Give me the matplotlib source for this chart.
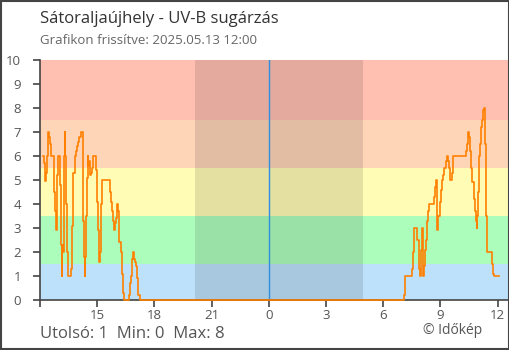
import pandas as pd
import matplotlib.pyplot as plt
import matplotlib.dates as mdates
from matplotlib.patches import Rectangle

plt.rcParams['font.family'] = ['Open Sans', 'DejaVu Sans']

# UV-B readings, afternoon of the first day
times_day1 = ["12:08", "12:12", "12:15", "12:17", "12:19", "12:21", "12:24", "12:26", "12:28", "12:30",
              "12:34", "12:36", "12:44", "12:47", "12:50", "12:52", "12:54", "12:56", "13:03", "13:07",
              "13:09", "13:10", "13:12", "13:16", "13:18", "13:20", "13:23", "13:26", "13:29", "13:37",
              "13:41", "13:45", "13:51", "13:54", "13:56", "13:59", "14:01", "14:04", "14:08", "14:14",
              "14:19", "14:21", "14:22", "14:24", "14:27", "14:31", "14:32", "14:34", "14:37", "14:40",
              "14:45", "14:48", "14:57", "15:00", "15:04", "15:05", "15:07", "15:08", "15:11", "15:13",
              "15:15", "15:39", "15:43", "15:46", "15:49", "15:52", "15:54", "15:56", "15:58", "16:01",
              "16:03", "16:04", "16:08", "16:15", "16:18", "16:21", "16:24", "16:40", "16:43", "16:45",
              "16:48", "16:50", "16:53", "16:55", "16:58", "17:01", "17:04", "17:07", "17:10", "17:14"]
uv_day1 = [6.0, 5.7, 5.3, 4.95, 5.3, 6.0, 6.6, 7.0, 6.8, 6.5,
           6.2, 6.0, 4.5, 3.7, 2.9, 3.7, 5.2, 6.0, 4.8, 2.3,
           1.0, 2.3, 2.0, 6.0, 7.0, 6.0, 4.0, 2.0, 1.0, 1.3,
           3.1, 5.3, 6.0, 6.2, 6.4, 6.5, 6.6, 6.8, 7.0, 3.3,
           1.8, 1.0, 1.8, 3.5, 5.1, 6.0, 5.6, 5.8, 5.2, 5.3,
           5.5, 6.0, 5.4, 4.1, 2.9, 1.7, 1.6, 2.0, 3.2, 4.0,
           5.0, 4.5, 4.1, 3.7, 3.3, 3.1, 2.9, 3.2, 3.4, 3.8,
           4.0, 3.7, 2.4, 2.0, 1.1, 0.3, 0.0, 0.2, 0.7, 1.0,
           1.3, 1.7, 2.0, 1.7, 1.6, 1.4, 0.9, 0.5, 0.2, 0.0]

# UV-B readings, morning of the second day
times_day2 = ["07:03", "07:06", "07:09", "07:32", "07:35", "07:38", "07:47", "07:52", "07:54", "07:57",
              "07:59", "08:02", "08:04", "08:07", "08:09", "08:13", "08:15", "08:18", "08:20", "08:23",
              "08:41", "08:44", "08:47", "08:48", "08:50", "08:54", "08:59", "09:03", "09:05", "09:09",
              "09:12", "09:17", "09:20", "09:23", "09:26", "09:29", "09:32", "09:36", "09:39", "10:21",
              "10:24", "10:27", "10:29", "10:33", "10:36", "10:40", "10:45", "10:49", "10:52", "10:54",
              "10:56", "10:59", "11:03", "11:05", "11:08", "11:11", "11:14", "11:17", "11:20", "11:24",
              "11:26", "11:43", "11:47", "11:50", "12:05"]
uv_day2 = [0.0, 0.2, 1.0, 1.3, 2.0, 3.0, 2.5, 1.5, 1.3, 1.0,
           2.1, 3.0, 1.4, 1.0, 1.4, 2.1, 2.5, 3.3, 3.7, 4.0,
           4.3, 4.7, 5.0, 3.5, 2.9, 3.5, 4.1, 4.6, 5.0, 5.2,
           5.5, 5.8, 6.0, 5.8, 5.5, 5.2, 5.0, 5.3, 6.0, 6.2,
           6.5, 7.0, 6.8, 6.2, 5.5, 4.9, 4.2, 3.7, 3.3, 3.0,
           3.5, 4.5, 6.0, 6.5, 7.2, 7.5, 7.9, 8.0, 6.5, 3.5,
           2.0, 1.5, 1.1, 1.0, 1.0]

# UV category bands (lower, upper, colour)
band_edges = [0, 1.5, 3.5, 5.5, 7.5, 10]
band_colors = ['#bde1fb', '#acfdbb', '#fffcb5', '#ffd5b8', '#ffc0b1']

day1, day2 = '2025-05-12', '2025-05-13'
t = pd.to_datetime([f'{day1} {s}' for s in times_day1] + [f'{day2} {s}' for s in times_day2])
uv = uv_day1 + uv_day2

start = pd.Timestamp(f'{day1} 12:00')
end = pd.Timestamp(f'{day2} 12:33')
sunset = pd.Timestamp(f'{day1} 20:08')
sunrise = pd.Timestamp(f'{day2} 04:56')
midnight = pd.Timestamp(f'{day2} 00:00')

fig = plt.figure(figsize=(5.1, 3.5), dpi=100)
ax = fig.add_axes([40 / 510, 50 / 350, 468 / 510, 240 / 350])

for lo, hi, c in zip(band_edges[:-1], band_edges[1:], band_colors):
    ax.axhspan(lo, hi, color=c, lw=0, zorder=0)
ax.axvspan(sunset, sunrise, color='black', alpha=0.11, lw=0, zorder=1)
ax.axvline(midnight, color='#2f8ee0', lw=1, zorder=2)

# drawn unclipped and above the spines so the zero stretch stays orange
ax.plot(t, uv, drawstyle='steps-post', color='#ff8000', lw=1.2, zorder=4, clip_on=False)

ax.set_xlim(start, end)
ax.set_ylim(0, 10)
ax.set_yticks(range(0, 11))


def hour_label(x, pos):
    d = mdates.num2date(x)
    # the axis starts at noon: keep its tick but leave it unlabelled
    if abs(x - mdates.date2num(start)) < 1e-6:
        return ''
    return str(d.hour)


ax.xaxis.set_major_locator(mdates.HourLocator(byhour=range(0, 24, 3)))
ax.xaxis.set_major_formatter(plt.FuncFormatter(hour_label))

for side in ('top', 'right'):
    ax.spines[side].set_visible(False)
for side in ('left', 'bottom'):
    ax.spines[side].set_color('#444444')
    ax.spines[side].set_linewidth(1.2)
ax.tick_params(axis='both', colors='#444444', labelcolor='#555555', labelsize=9.5,
               length=5, width=1.2, direction='out')
ax.tick_params(axis='y', pad=8.5)
ax.tick_params(axis='x', pad=1.5)

fig.text(40 / 510, 1 - 19 / 350, 'Sátoraljaújhely - UV-B sugárzás', fontsize=12,
         color='#333333', va='center')
fig.text(40 / 510, 1 - 41 / 350, 'Grafikon frissítve: 2025.05.13 12:00', fontsize=9.5,
         color='#666666', va='center')
fig.text(40 / 510, 1 - 334 / 350, 'Utolsó: 1  Min: 0  Max: 8', fontsize=12,
         color='#555555', va='center')
fig.text(482 / 510, 1 - 331 / 350, '© Időkép', fontsize=10, color='#555555',
         va='center', ha='right')

fig.patches.append(Rectangle((0.001, 0.0015), 0.997, 0.996, transform=fig.transFigure,
                             fill=False, edgecolor='#444444', lw=1.5))

fig.savefig('out.png', dpi=100)
